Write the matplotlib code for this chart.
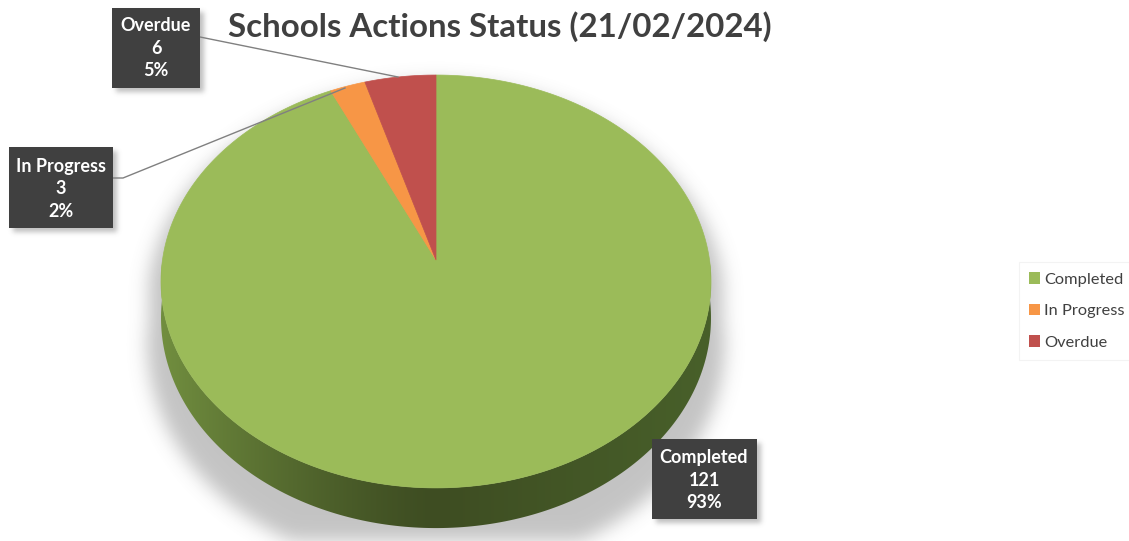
import matplotlib
matplotlib.use('Agg')
import matplotlib.pyplot as plt
from matplotlib.patches import Polygon, Rectangle, Patch
from matplotlib.path import Path
import numpy as np

plt.rcParams['font.family'] = ['Lato', 'DejaVu Sans']

# data
categories = ['Completed', 'In Progress', 'Overdue']
counts = [121, 3, 6]
colors = ['#9BBB59', '#F79646', '#C0504D']
title = 'Schools Actions Status (21/02/2024)'

W, H = 1129, 541
fig = plt.figure(figsize=(W / 100, H / 100), dpi=100)
ax = fig.add_axes([0, 0, 1, 1])
ax.set_xlim(0, W)
ax.set_ylim(H, 0)
ax.axis('off')

# perspective disk geometry (pixels)
CX, CV = 436, 260
A, B, K, D = 273.5, 204.2, 0.104, 36.0


def proj(X, Y, Z=0.0):
    s = 1.0 + K * Y
    return CX + A * X / s, CV - B * Y / s - D * Z / s


def rim(t, Z=0.0):
    return proj(np.sin(t), np.cos(t), Z)


def lerp(c1, c2, f):
    c1 = np.array(matplotlib.colors.to_rgb(c1))
    c2 = np.array(matplotlib.colors.to_rgb(c2))
    f = np.asarray(f)[..., None]
    return c1 + (c2 - c1) * f


# soft shadow behind the pie and the label boxes
def blur(img, sigma):
    r = int(3 * sigma)
    x = np.arange(-r, r + 1)
    k = np.exp(-x ** 2 / (2 * sigma ** 2))
    k /= k.sum()
    out = np.zeros_like(img)
    pad = np.pad(img, ((0, 0), (r, r)))
    for i, w in enumerate(k):
        out += w * pad[:, i:i + img.shape[1]]
    pad = np.pad(out, ((r, r), (0, 0)))
    out2 = np.zeros_like(img)
    for i, w in enumerate(k):
        out2 += w * pad[i:i + img.shape[0], :]
    return out2


yy, xx = np.mgrid[0:H, 0:W] + 0.5
pts = np.column_stack([xx.ravel(), yy.ravel()])

tb = np.linspace(np.pi / 2, 3 * np.pi / 2, 200)
tt = np.linspace(3 * np.pi / 2, 5 * np.pi / 2, 200)
bu, bv = rim(tb, -1.0)
tu, tv = rim(tt)
sil_u = np.concatenate([bu, tu])
sil_v = np.concatenate([bv, tv])
sh_u = CX + (sil_u - CX) * 1.05
sh_v = sil_v + 22 + (sil_v - CV) * 0.08
mask = Path(np.column_stack([sh_u, sh_v])).contains_points(pts).reshape(H, W).astype(float)
shadow = blur(mask, 9) * 0.42

boxes = [(652, 439, 105, 80), (9, 147, 104, 81), (112, 8, 88, 80)]
bmask = np.zeros((H, W))
for bx, by, bw, bh in boxes:
    bmask[by + 4:by + bh + 4, bx + 4:bx + bw + 4] = 1.0
shadow = np.maximum(shadow, blur(bmask, 2.5) * 0.45)
rgba = np.zeros((H, W, 4))
rgba[..., :3] = 0.45
rgba[..., 3] = shadow
ax.imshow(rgba, extent=(0, W, H, 0), zorder=0, interpolation='bilinear')

# side wall of the pie (front half is all "Completed"), shaded left to right
side_top_u, side_top_v = rim(tb)
side_bot_u, side_bot_v = rim(tb[::-1], -1.0)
side = Polygon(list(zip(side_top_u, side_top_v)) + list(zip(side_bot_u, side_bot_v)),
               closed=True, facecolor='none', edgecolor='none', transform=ax.transData)
ax.add_patch(side)
xm = np.clip((np.arange(W) + 0.5 - CX) / A, -1, 1)
grad = np.where(xm < 0,
                0, 1)[None, :, None] * lerp('#3e4d22', '#48602a', np.clip(xm, 0, 1))[None] + \
    np.where(xm < 0, 1, 0)[None, :, None] * lerp('#3e4d22', '#718e3f', np.clip(-xm, 0, 1) ** 1.3)[None]
img = ax.imshow(grad, extent=(0, W, H, 200), zorder=2, interpolation='bilinear', aspect='auto')
img.set_clip_path(side)

# top surface slices
total = sum(counts)
start = 0.0
for cat, n, col in zip(categories, counts, colors):
    frac = n / total
    t = np.linspace(start, start + frac * 2 * np.pi, max(int(frac * 400), 4))
    u, v = rim(t)
    poly = [proj(0, 0)] + list(zip(u, v))
    ax.add_patch(Polygon(poly, closed=True, facecolor=col, edgecolor=col, lw=0.5, zorder=3))
    start += frac * 2 * np.pi

# data labels
label_pos = {
    'Completed': (704, 480),
    'In Progress': (61, 189),
    'Overdue': (156, 48),
}
leaders = {
    'In Progress': [(113, 178), (123, 178), (345, 88)],
    'Overdue': [(200, 37), (398, 77)],
}
for (bx, by, bw, bh), cat in zip(boxes, categories):
    ax.add_patch(Rectangle((bx, by), bw, bh, facecolor='#404040', edgecolor='none', zorder=5))
    n = counts[categories.index(cat)]
    pct = round(n / total * 100)
    x, y = label_pos[cat]
    ax.text(x, y, f'{cat}\n{n}\n{pct}%', color='white', fontsize=13, fontweight='bold',
            ha='center', va='center', linespacing=1.38, zorder=6)
    if cat in leaders:
        lx, ly = zip(*leaders[cat])
        ax.plot(lx, ly, color='#808080', lw=1, zorder=4)

ax.text(500, 27, title, fontsize=23.8, fontweight='bold', color='#404040',
        ha='center', va='center', zorder=6)

handles = [Patch(facecolor=c, edgecolor='none') for c in colors]
leg = ax.legend(handles, categories, loc='center left', bbox_to_anchor=(1019 / W, 1 - 311 / H),
                fontsize=11.8, frameon=True, handlelength=0.7, handleheight=0.7,
                handletextpad=0.25, labelspacing=1.05, borderpad=0.6, borderaxespad=0)
leg.get_frame().set_edgecolor('#f0f0f0')
leg.get_frame().set_linewidth(0.8)
leg.get_frame().set_boxstyle('square', pad=0)
for txt in leg.get_texts():
    txt.set_color('#404040')

fig.savefig('out.png', dpi=100, facecolor='white')
